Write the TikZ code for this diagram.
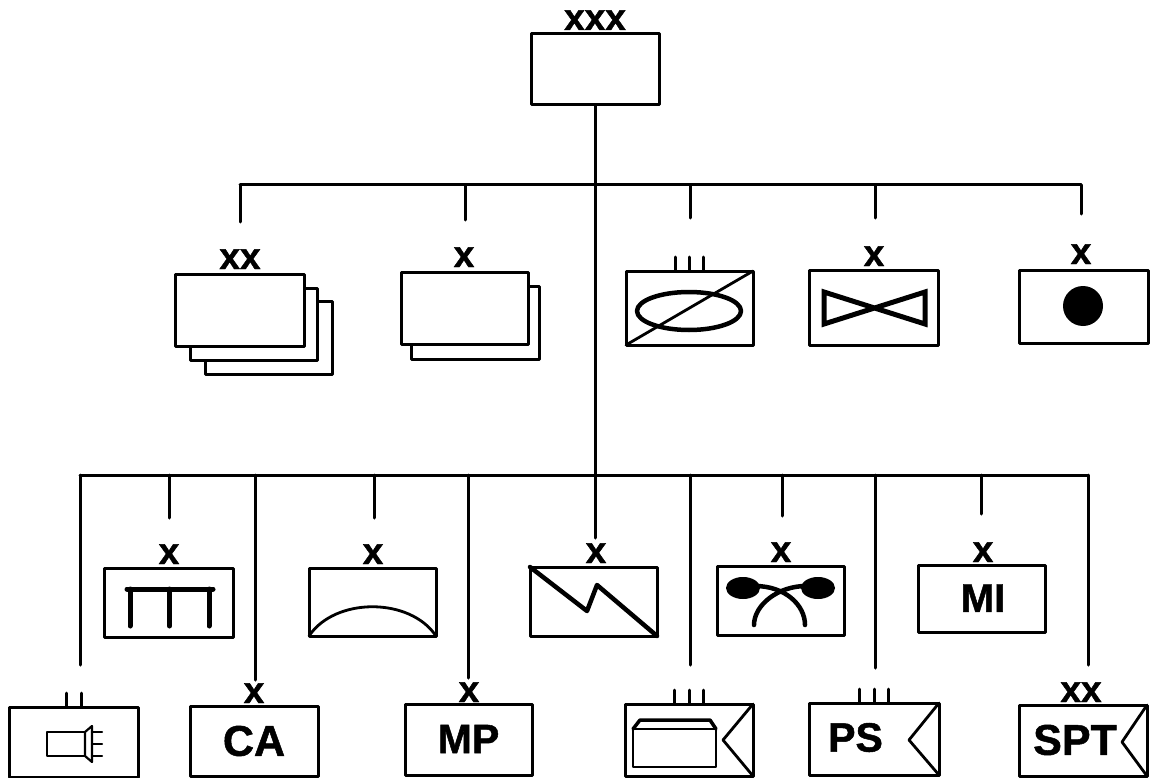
\documentclass[tikz,border=0pt]{standalone}
\usepackage{fontspec}
\setmainfont{Liberation Sans}[BoldFeatures={FakeBold=1.2}]
\tikzset{
  box/.style={draw=black,fill=white,line width=3pt,inner sep=0pt,outer sep=0pt,line join=round},
  wire/.style={draw=black,line width=3pt,line cap=round},
  icon/.style={draw=black,line width=2.8pt,line join=round,line cap=round},
  thick icon/.style={draw=black,line width=4.5pt,line join=round,line cap=round},
  mark label/.style={font=\fontsize{37}{37}\selectfont\bfseries,inner sep=0pt,anchor=base,text=black},
  code label/.style={font=\fontsize{43}{43}\selectfont\bfseries,inner sep=0pt,text=black},
}
\begin{document}
\begin{tikzpicture}[x=1pt,y=-1pt]
\useasboundingbox (0,0) rectangle (1150,778);
% top
\node[box,minimum width=128pt,minimum height=71pt] (top) at (595,69.5) {};
\node[mark label] (ltop) at (595,30) {xxx};
% row 2 boxes
\node[box,minimum width=127pt,minimum height=73pt] (a3) at (268.5,337.5) {};
\node[box,minimum width=127pt,minimum height=72pt] (a2) at (253.5,324) {};
\node[box,minimum width=129pt,minimum height=72pt] (a) at (239.5,310) {};
\node[box,minimum width=128pt,minimum height=73pt] (b2) at (475,322.5) {};
\node[box,minimum width=127pt,minimum height=72pt] (b) at (464.5,308) {};
\node[box,minimum width=127pt,minimum height=74pt] (c) at (689.5,308) {};
\node[box,minimum width=129pt,minimum height=75pt] (d) at (873.5,307.5) {};
\node[box,minimum width=129pt,minimum height=73pt] (e) at (1083.5,306.5) {};
\node[mark label] (la) at (240,269) {xx};
\node[mark label] (lb) at (464,267) {x};
\node[mark label] (ld) at (874,266) {x};
\node[mark label] (le) at (1081,264) {x};
% row 3 boxes
\node[box,minimum width=129pt,minimum height=69pt] (f) at (168.5,602.5) {};
\node[box,minimum width=127pt,minimum height=68pt] (g) at (372.5,602) {};
\node[box,minimum width=127pt,minimum height=69pt] (h) at (593.5,601.5) {};
\node[box,minimum width=127pt,minimum height=69pt] (i) at (780.5,600.5) {};
\node[box,minimum width=127pt,minimum height=67pt] (j) at (981.5,598.5) {};
\node[mark label] (lf) at (169,564) {x};
\node[mark label] (lg) at (373,564) {x};
\node[mark label] (lh) at (596,563) {x};
\node[mark label] (li) at (781,562) {x};
\node[mark label] (lj) at (983,562) {x};
\node[code label,font=\fontsize{40}{40}\selectfont\bfseries] (tj) at (983,598) {MI};
% row 4 boxes
\node[box,minimum width=129pt,minimum height=70pt] (k) at (73.5,742) {};
\node[box,minimum width=128pt,minimum height=70pt] (l) at (254,741) {};
\node[box,minimum width=127pt,minimum height=71pt] (m) at (468.5,739.5) {};
\node[box,minimum width=128pt,minimum height=72pt] (n) at (689,740) {};
\node[box,minimum width=130pt,minimum height=72pt] (o) at (874,739) {};
\node[box,minimum width=128pt,minimum height=71pt] (p) at (1083,740.5) {};
\node[mark label] (ll) at (254,703) {x};
\node[mark label] (lm) at (469,702) {x};
\node[mark label] (lp) at (1081,702) {xx};
\node[code label] (tl) at (254,741) {CA};
\node[code label,font=\fontsize{41}{41}\selectfont\bfseries] (tm) at (468.5,739) {MP};
\node[code label,font=\fontsize{41}{41}\selectfont\bfseries] (to) at (855.5,737.5) {PS};
\node[code label] (tp) at (1075,740) {SPT};
% buses
\coordinate (busa) at (595,185);
\coordinate (busal) at (240,185);
\coordinate (busar) at (1081,185);
\coordinate (busb) at (595,475);
\coordinate (busbl) at (80,475);
\coordinate (busbr) at (1088,475);
\draw[wire] (top.south) -- (busa) -- (busb);
\draw[wire] (busal) -- (busar);
\draw[wire] (busbl) -- (busbr);
\foreach \n/\x/\yend in {a/240/222,b/465/220,c/690/218,d/875/218,e/1081/214}{
  \coordinate (ua\n) at (\x,185);
  \coordinate (va\n) at (\x,\yend);
  \draw[wire] (ua\n) -- (va\n);
}
\foreach \n/\x/\yend in {k/80/665,f/169/518,l/255/680,g/374/518,m/468/678,h/595/538,n/690/665,i/782/516,o/875/668,j/981/514,p/1088/665}{
  \coordinate (ub\n) at (\x,475);
  \coordinate (vb\n) at (\x,\yend);
  \draw[wire] (ub\n) -- (vb\n);
}
% ticks
\foreach \x in {675,689,703}{\draw[wire] (\x,257) -- (\x,271);}
\foreach \x in {66,81}{\draw[wire] (\x,693) -- (\x,707);}
\foreach \x in {674,689,703}{\draw[wire] (\x,690) -- (\x,704);}
\foreach \x in {859,874,888}{\draw[wire] (\x,689) -- (\x,703);}
% C icon
\draw[icon,line width=4.5pt] (689,311) ellipse [x radius=52pt,y radius=19pt];
\draw[icon] (c.north east) -- (c.south west);
% D icon
\draw[thick icon,line join=miter,line width=5pt] (824,292) -- (925,324) -- (925,292) -- (824,324) -- cycle;
% E icon
\fill[black] (1083,306) circle [radius=20pt];
% F icon
\draw[thick icon,line width=5pt] (127,589) -- (213,589);
\foreach \x in {130,169.5,209}{\draw[thick icon,line width=5pt] (\x,589) -- (\x,626);}
% G icon
\draw[icon] (g.south west) .. controls (335,597) and (410,597) .. (g.south east);
% H icon
\draw[thick icon] (h.north west) -- (587,611) -- (597,585) -- (h.south east);
% I icon
\fill[black] (743,588) ellipse [x radius=17pt,y radius=11pt];
\fill[black] (818,588) ellipse [x radius=17pt,y radius=11pt];
\draw[thick icon] (755,586) .. controls (785,586) and (805,605) .. (805,625);
\draw[thick icon] (806,586) .. controls (778,586) and (754,605) .. (754,625);
% K icon
\draw[icon,line width=2.2pt] (85,732) -- (47,732) -- (47,756) -- (85,756);
\draw[icon,line width=2.2pt] (85,732) -- (92,726) -- (92,762) -- (85,756) -- cycle;
\foreach \y in {732,744,756}{\draw[icon,line width=2.2pt] (92,\y) -- (102,\y);}
% N icon
\draw[icon] (n.north east) -- (723,740) -- (n.south east);
\draw[icon] (633,729) -- (716,729) -- (716,767) -- (633,767) -- cycle;
\draw[icon,line width=3.5pt] (633,729) -- (640,720) -- (710,720) -- (716,729);
% O icon
\draw[icon] (o.north east) -- (909,740) -- (o.south east);
% P icon
\draw[icon] (p.north east) -- (1122,742) -- (p.south east);
\end{tikzpicture}
\end{document}
